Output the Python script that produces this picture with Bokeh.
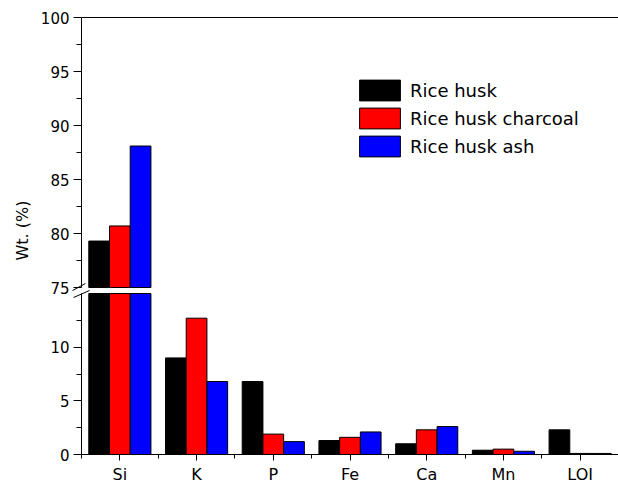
import math
from bokeh.plotting import figure
from bokeh.models import (ColumnDataSource, Range1d, FixedTicker, Legend, LegendItem,
                          LinearAxis, CDSView, BooleanFilter)
from bokeh.core.properties import value
from bokeh.transform import dodge
from bokeh.embed import file_html
from bokeh.resources import INLINE

# ---- data ----
categories = ["Si", "K", "P", "Fe", "Ca", "Mn", "LOI"]
rice_husk = [79.3, 9.0, 6.8, 1.3, 1.0, 0.4, 2.3]
rice_husk_charcoal = [80.7, 12.7, 1.9, 1.6, 2.3, 0.5, 0.1]
rice_husk_ash = [88.1, 6.8, 1.2, 2.1, 2.6, 0.3, 0.1]
series_names = ["Rice husk", "Rice husk charcoal", "Rice husk ash"]
series_colors = ["#000000", "#ff0000", "#0000ff"]
upper_ticks = [75, 80, 85, 90, 95, 100]
lower_ticks = [0, 5, 10]
BREAK_LO, BREAK_HI, Y_MAX = 15, 75, 100   # axis break: 15 .. 75 is skipped

series = [rice_husk, rice_husk_charcoal, rice_husk_ash]
n = len(categories)
x_pos = list(range(1, n + 1))
data = dict(x=x_pos)
for i, s in enumerate(series):
    data[f"v{i}"] = s
    data[f"low{i}"] = [min(v, BREAK_LO) for v in s]
source = ColumnDataSource(data)

# ---- layout geometry (pixels) ----
W, H = 618, 484
AX_X = 81            # pixel column of the y axis
Y0_PX = 454          # pixel row of value 0
Y100_PX = 17         # pixel row of value 100
PPU_UP = 10.8        # px per unit, upper segment
PPU_LO = 161 / 15    # px per unit, lower segment
FONT = "DejaVu Sans"
offsets = [-0.27, 0.0, 0.27]
BW = 0.27

cat_px = (W - AX_X) / n
x_range = Range1d(0.5 - AX_X / cat_px, n + 0.5)
up_end = Y_MAX + Y100_PX / PPU_UP
up_range = Range1d(up_end - H / PPU_UP, up_end)
lo_start = -(H - Y0_PX) / PPU_LO
lo_range = Range1d(lo_start, lo_start + H / PPU_LO)

p = figure(frame_width=W, frame_height=H, x_range=x_range, y_range=lo_range,
           output_backend="svg", toolbar_location=None,
           min_border_left=0, min_border_right=0, min_border_top=0, min_border_bottom=0,
           x_axis_location="below", y_axis_location=None)
p.extra_y_ranges = {"upper": up_range, "px": Range1d(H, 0)}
p.extra_x_ranges = {"px": Range1d(0, W)}
p.outline_line_color = None
p.grid.visible = False

# bars: lower segment
for i, (off, col) in enumerate(zip(offsets, series_colors)):
    p.vbar(x=dodge("x", off), top=f"low{i}", bottom=0, width=BW, source=source,
           fill_color=col, line_color="black", line_width=1)
# bars: upper segment
rs_u = []
for i, (off, col) in enumerate(zip(offsets, series_colors)):
    view = CDSView(filter=BooleanFilter([v > BREAK_HI for v in series[i]]))
    r = p.vbar(x=dodge("x", off), top=f"v{i}", bottom=BREAK_HI, width=BW, source=source,
               view=view, y_range_name="upper", fill_color=col, line_color="black",
               line_width=1)
    rs_u.append(r)

# top frame line
p.segment(x0=[0.5], y0=[Y_MAX], x1=[n + 0.5], y1=[Y_MAX], y_range_name="upper",
          line_color="black", line_width=1)


def style_axis(ax):
    ax.axis_line_color = "black"
    ax.major_tick_line_color = "black"
    ax.minor_tick_line_color = "black"
    ax.major_tick_in = 0
    ax.minor_tick_in = 0
    ax.major_label_text_font = FONT
    ax.major_label_text_color = "black"


for rng_name, ticks, bnds in [("default", lower_ticks, (0, BREAK_LO)),
                              ("upper", upper_ticks, (BREAK_HI, Y_MAX))]:
    ax = LinearAxis(y_range_name=rng_name, bounds=bnds, fixed_location=0.5,
                    ticker=FixedTicker(ticks=ticks, minor_ticks=[t + 2.5 for t in ticks]))
    style_axis(ax)
    ax.major_tick_out = 8
    ax.minor_tick_out = 5
    ax.major_label_text_font_size = "15px"
    ax.major_label_standoff = 4
    p.add_layout(ax, "left")

xa = p.xaxis[0]
xa.fixed_location = 0
xa.bounds = (0.5, n + 0.5)
xa.ticker = FixedTicker(ticks=x_pos, minor_ticks=[x - 0.5 for x in x_pos] + [n + 0.5])
xa.major_label_overrides = {x: c for x, c in zip(x_pos, categories)}
style_axis(xa)
xa.major_tick_out = 6
xa.minor_tick_out = 4
xa.major_label_text_font_size = "16px"
xa.major_label_standoff = 4

# axis-break marks and y title (pixel coordinates)
p.segment(x0=[72, 73], y0=[290, 297], x1=[85, 89], y1=[283, 290],
          x_range_name="px", y_range_name="px", line_color="black", line_width=1)
p.text(x=[22], y=[230], text=["Wt. (%)"], angle=math.pi / 2,
       x_range_name="px", y_range_name="px",
       text_align="center", text_baseline="middle", text_font=value(FONT),
       text_font_size="16px", text_color="black")

legend = Legend(items=[LegendItem(label=nm, renderers=[r]) for nm, r in zip(series_names, rs_u)],
                location=(354, H - 159), glyph_width=51, glyph_height=26, spacing=2,
                padding=0, margin=0, border_line_color=None, background_fill_alpha=0,
                label_text_font=FONT, label_text_font_size="18px",
                label_text_color="black", label_standoff=5)
p.add_layout(legend)

open("out.html", "w").write(file_html(p, INLINE))
